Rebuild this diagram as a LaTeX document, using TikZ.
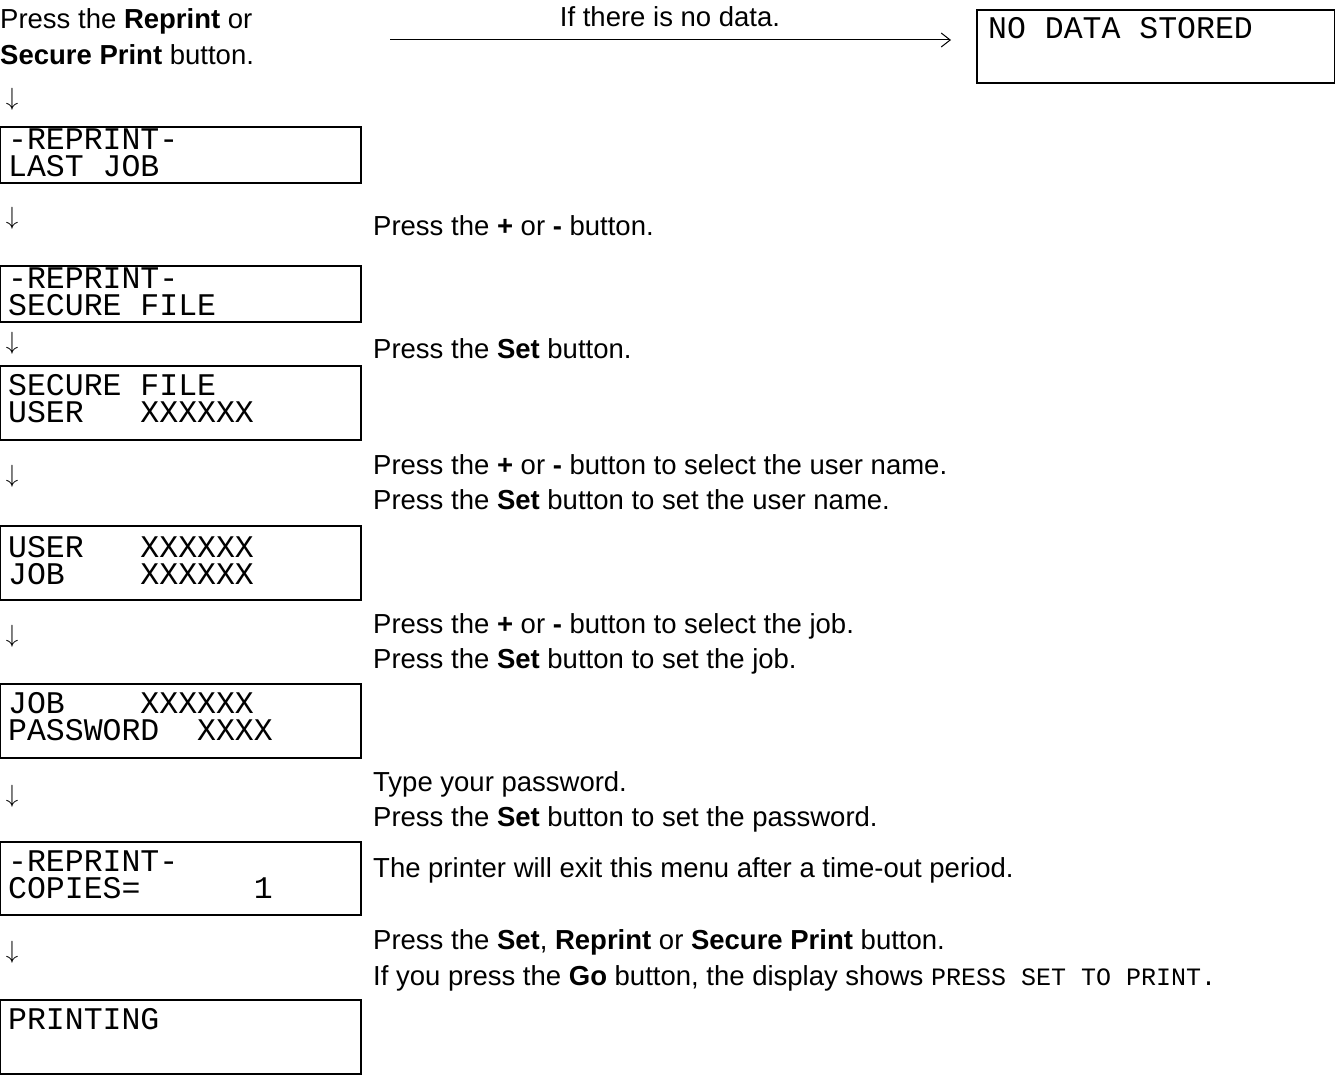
\documentclass[tikz,border=0pt]{standalone}
\usepackage{fontspec}
\usetikzlibrary{arrows.meta}
\setmainfont{Liberation Sans}
\newfontfamily\lcdfont{Liberation Mono}
\tikzset{
  lcdbox/.style={draw, line width=1.3pt},
  lcd/.style={anchor=base west, inner sep=0pt, font=\lcdfont\fontsize{31.5}{28}\selectfont},
  note/.style={anchor=base west, inner sep=0pt, font=\fontsize{27.5}{33}\selectfont},
  down/.style={inner sep=0pt, font=\fontsize{24}{24}\selectfont}
}
\begin{document}
\begin{tikzpicture}[x=1pt,y=-1pt]
\useasboundingbox (0,0) rectangle (1335,1081);

% display boxes
\draw[lcdbox] (0,127) rectangle (361,183);
\draw[lcdbox] (0,266) rectangle (361,322);
\draw[lcdbox] (0,366) rectangle (361,440);
\draw[lcdbox] (0,526) rectangle (361,600);
\draw[lcdbox] (0,684) rectangle (361,758);
\draw[lcdbox] (0,842) rectangle (361,915);
\draw[lcdbox] (0,1000) rectangle (361,1074);
\draw[lcdbox] (977,10) rectangle (1335,83);

\node[lcd] at (8,149) {-REPRINT-};
\node[lcd] at (8,176) {LAST JOB};
\node[lcd] at (8,288) {-REPRINT-};
\node[lcd] at (8,315) {SECURE FILE};
\node[lcd] at (8,395) {SECURE FILE};
\node[lcd] at (8,422) {USER\ \ \ XXXXXX};
\node[lcd] at (8,557) {USER\ \ \ XXXXXX};
\node[lcd] at (8,584) {JOB\ \ \ \ XXXXXX};
\node[lcd] at (8,713) {JOB\ \ \ \ XXXXXX};
\node[lcd] at (8,740) {PASSWORD\ \ XXXX};
\node[lcd] at (8,871) {-REPRINT-};
\node[lcd] at (8,898) {COPIES=\ \ \ \ \ \ 1};
\node[lcd] at (8,1029) {PRINTING};
\node[lcd] (nodata) at (988,39) {NO DATA STORED};

% arrows down
\node[down] at (12,99) {$\downarrow$};
\node[down] at (12,218) {$\downarrow$};
\node[down] at (12,343) {$\downarrow$};
\node[down] at (12,476) {$\downarrow$};
\node[down] at (12,636) {$\downarrow$};
\node[down] at (12,796) {$\downarrow$};
\node[down] at (12,952) {$\downarrow$};

% notes
\node[note] at (0,29) {Press the \textbf{Reprint} or};
\node[note] at (0,64) {\textbf{Secure Print} button.};
\node[note, anchor=base] at (670,27) {If there is no data.};
\coordinate (nostart) at (390,40);
\coordinate (noend) at (951,40);
\draw[-{Straight Barb[length=9pt,width=14pt]}, line width=1pt] (nostart) -- (noend);

\node[note] at (373,235) {Press the \textbf{+} or \textbf{-} button.};
\node[note] at (373,358) {Press the \textbf{Set} button.};
\node[note] at (373,474) {Press the \textbf{+} or \textbf{-} button to select the user name.};
\node[note] at (373,509) {Press the \textbf{Set} button to set the user name.};
\node[note] at (373,633) {Press the \textbf{+} or \textbf{-} button to select the job.};
\node[note] at (373,668) {Press the \textbf{Set} button to set the job.};
\node[note] at (373,791) {Type your password.};
\node[note] at (373,826) {Press the \textbf{Set} button to set the password.};
\node[note] at (373,877) {The printer will exit this menu after a time-out period.};
\node[note] at (373,949) {Press the \textbf{Set}, \textbf{Reprint} or \textbf{Secure Print} button.};
\node[note] at (373,985) {If you press the \textbf{Go} button, the display shows {\lcdfont\fontsize{25}{25}\selectfont PRESS SET TO PRINT.}};
\end{tikzpicture}
\end{document}
